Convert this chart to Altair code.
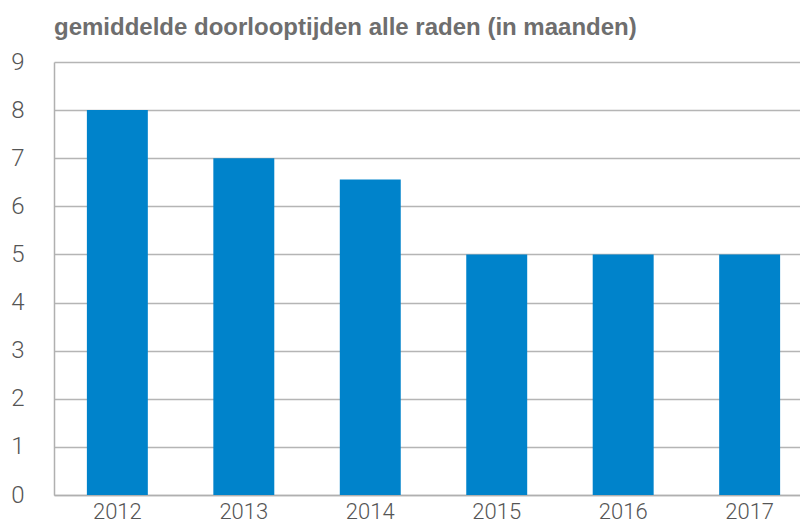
import altair as alt
import pandas as pd

years = ["2012", "2013", "2014", "2015", "2016", "2017"]
values = [8.0, 7.0, 6.56, 5.0, 5.0, 5.0]
y_ticks = [0, 1, 2, 3, 4, 5, 6, 7, 8, 9]

df = pd.DataFrame({"jaar": years, "maanden": values})

font_num = "Roboto"

chart = (
    alt.Chart(df)
    .mark_bar(color="#0083CB")
    .encode(
        x=alt.X(
            "jaar:N",
            sort=years,
            scale=alt.Scale(range=[0, 759], paddingInner=0.518, paddingOuter=0.26),
            axis=alt.Axis(
                title=None,
                labelAngle=0,
                ticks=False,
                domain=True,
                domainColor="#b0b0b0",
                domainWidth=1.5,
                labelFont=font_num,
                labelFontWeight=300,
                labelFontSize=22,
                labelColor="#555555",
                labelPadding=6,
                labelBaseline="top",
            ),
        ),
        y=alt.Y(
            "maanden:Q",
            scale=alt.Scale(domain=[0, 9], nice=False),
            axis=alt.Axis(
                title=None,
                values=y_ticks,
                ticks=False,
                domain=True,
                domainColor="#b0b0b0",
                domainWidth=1.5,
                grid=True,
                gridColor="#b5b5b5",
                gridWidth=1.5,
                labelFont=font_num,
                labelFontWeight=300,
                labelFontSize=24,
                labelColor="#555555",
                labelPadding=30,
                labelAlign="right",
            ),
        ),
    )
    .properties(
        width=746,
        height=433,
        title=alt.TitleParams(
            "gemiddelde doorlooptijden alle raden (in maanden)",
            anchor="start",
            frame="group",
            dx=0,
            offset=10,
            font="Liberation Sans",
            fontSize=24,
            fontWeight="bold",
            color="#6e6e6e",
        ),
        autosize=alt.AutoSizeParams(type="none"),
        padding={"left": 46, "top": 54, "right": 0, "bottom": 27},
    )
    .configure_view(stroke=None)
)

chart.save("out.html", embed_options={"renderer": "svg", "actions": False})
